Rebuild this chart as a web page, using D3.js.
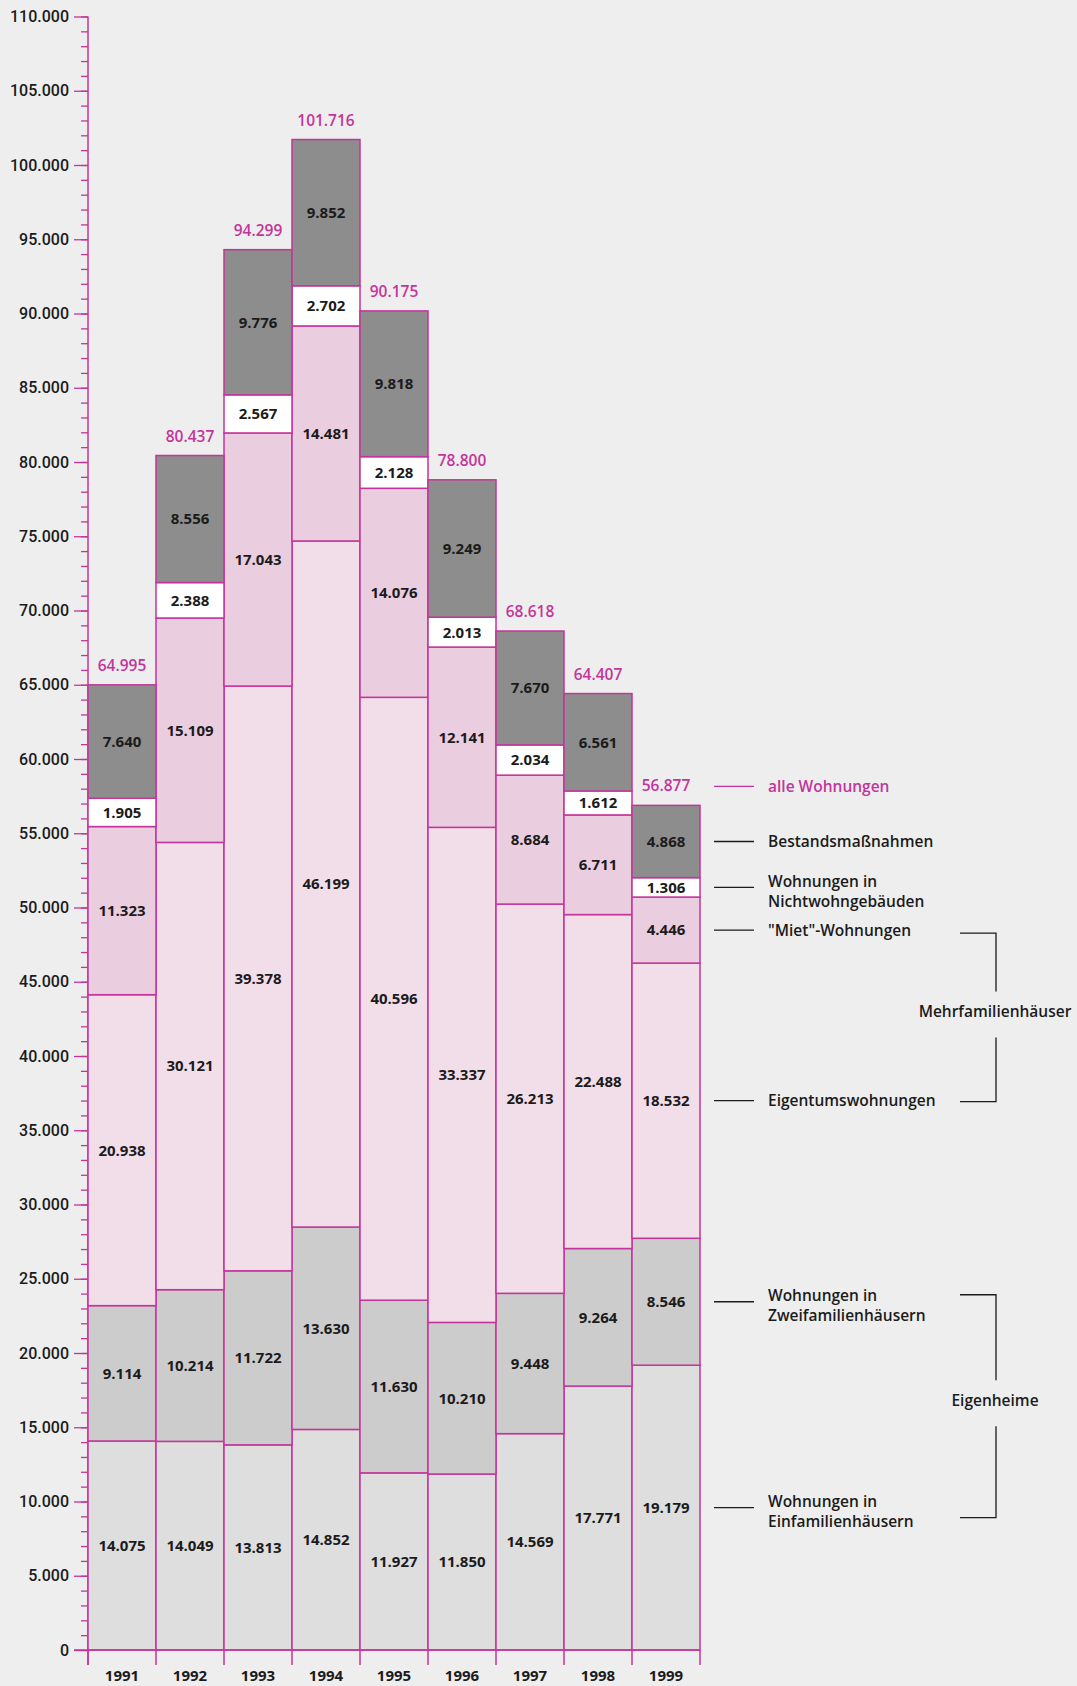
<!DOCTYPE html>
<html>
<head>
<meta charset="utf-8">
<script src="https://cdn.jsdelivr.net/npm/d3@7"></script>
<style>
  html, body { margin: 0; padding: 0; background: #eeeeee; }
  svg { display: block; }
</style>
</head>
<body>
<svg id="chart"></svg>
<script>
const years = ['1991', '1992', '1993', '1994', '1995', '1996', '1997', '1998', '1999']

// bottom to top
const einfamilien = [14075, 14049, 13813, 14852, 11927, 11850, 14569, 17771, 19179]
const zweifamilien = [9114, 10214, 11722, 13630, 11630, 10210, 9448, 9264, 8546]
const eigentum = [20938, 30121, 39378, 46199, 40596, 33337, 26213, 22488, 18532]
const miet = [11323, 15109, 17043, 14481, 14076, 12141, 8684, 6711, 4446]
const nichtwohn = [1905, 2388, 2567, 2702, 2128, 2013, 2034, 1612, 1306]
const bestand = [7640, 8556, 9776, 9852, 9818, 9249, 7670, 6561, 4868]
const totals = [64995, 80437, 94299, 101716, 90175, 78800, 68618, 64407, 56877]

const seriesKeys = ['einfamilien', 'zweifamilien', 'eigentum', 'miet', 'nichtwohn', 'bestand']
const seriesLabels = [
  ['Wohnungen in', 'Einfamilienhäusern'],
  ['Wohnungen in', 'Zweifamilienhäusern'],
  ['Eigentumswohnungen'],
  ['"Miet"-Wohnungen'],
  ['Wohnungen in', 'Nichtwohngebäuden'],
  ['Bestandsmaßnahmen']
]
const totalLabel = 'alle Wohnungen'
const groupLabels = ['Eigenheime', 'Mehrfamilienhäuser']

const width = 1077
const height = 1686
const magenta = '#c4359b'
const ink = '#1b1b1b'
const fills = {
  einfamilien: '#dedede',
  zweifamilien: '#cccccc',
  eigentum: '#f2dee9',
  miet: '#ebcde0',
  nichtwohn: '#ffffff',
  bestand: '#8d8d8d'
}

const de = d3.formatLocale({ decimal: ',', thousands: '.', grouping: [3], currency: ['', ' €'] })
const fmt = de.format(',d')

const x = d3.scaleBand().domain(years).range([88, 700]).paddingInner(0).paddingOuter(0)
const y = d3.scaleLinear().domain([0, 110000]).range([1650, 16.5])

const svg = d3.select('#chart')
  .attr('width', width)
  .attr('height', height)

svg.append('rect')
  .attr('width', width)
  .attr('height', height)
  .attr('fill', '#eeeeee')

const table = years.map((yr, i) => ({
  year: yr,
  einfamilien: einfamilien[i],
  zweifamilien: zweifamilien[i],
  eigentum: eigentum[i],
  miet: miet[i],
  nichtwohn: nichtwohn[i],
  bestand: bestand[i],
  total: totals[i]
}))

const stacked = d3.stack().keys(seriesKeys)(table)

/**
 * Draw the y axis with major and minor ticks.
 */
function drawAxis () {
  const minor = svg.append('g')
    .attr('transform', `translate(${x.range()[0]},0)`)
    .call(d3.axisLeft(y).tickValues(d3.range(0, 110001, 1000)).tickSize(7).tickFormat(''))
  minor.select('.domain').remove()
  minor.selectAll('line').attr('stroke', magenta).attr('stroke-width', 1.3)

  const major = svg.append('g')
    .attr('transform', `translate(${x.range()[0]},0)`)
    .call(d3.axisLeft(y).tickValues(d3.range(0, 110001, 5000)).tickSize(14).tickPadding(5).tickFormat(fmt))
  major.select('.domain').remove()
  major.selectAll('line').attr('stroke', magenta).attr('stroke-width', 1.3)
  major.selectAll('text')
    .attr('fill', ink)
    .attr('font-family', 'Roboto')
    .attr('font-weight', 500)
    .attr('font-size', '16px')

  svg.append('line')
    .attr('x1', x.range()[0]).attr('x2', x.range()[0])
    .attr('y1', y(110000)).attr('y2', y(0) + 15)
    .attr('stroke', magenta)
    .attr('stroke-width', 1.5)
}

/**
 * Draw the stacked bars with their value labels.
 */
function drawBars () {
  const layer = svg.append('g')
    .selectAll('g')
    .data(stacked)
    .join('g')
    .attr('fill', d => fills[d.key])

  layer.selectAll('rect')
    .data(d => d)
    .join('rect')
    .attr('x', d => x(d.data.year))
    .attr('width', x.bandwidth())
    .attr('y', d => y(d[1]))
    .attr('height', d => y(d[0]) - y(d[1]))
    .attr('stroke', magenta)
    .attr('stroke-width', 1.5)

  const labels = svg.append('g')
    .attr('font-family', 'Open Sans')
    .attr('font-weight', 700)
    .attr('font-size', '15px')
    .attr('fill', ink)
    .attr('text-anchor', 'middle')

  stacked.forEach(s => {
    labels.selectAll(null)
      .data(s)
      .join('text')
      .attr('x', d => x(d.data.year) + x.bandwidth() / 2)
      .attr('y', d => y((d[0] + d[1]) / 2))
      .attr('dy', '0.36em')
      .text(d => fmt(d[1] - d[0]))
  })

  svg.append('g')
    .attr('font-family', 'Open Sans')
    .attr('font-weight', 600)
    .attr('font-size', '15.5px')
    .attr('fill', magenta)
    .attr('text-anchor', 'middle')
    .selectAll('text')
    .data(table)
    .join('text')
    .attr('x', d => x(d.year) + x.bandwidth() / 2)
    .attr('y', d => y(d.total) - 14)
    .text(d => fmt(d.total))

  // baseline and bar edges running below zero
  const edges = years.map(yr => x(yr)).concat([x.range()[1]])
  svg.append('g')
    .selectAll('line')
    .data(edges)
    .join('line')
    .attr('x1', d => d).attr('x2', d => d)
    .attr('y1', y(0)).attr('y2', y(0) + 15)
    .attr('stroke', magenta)
    .attr('stroke-width', 1.5)

  svg.append('line')
    .attr('x1', x.range()[0] - 14).attr('x2', x.range()[1])
    .attr('y1', y(0)).attr('y2', y(0))
    .attr('stroke', magenta)
    .attr('stroke-width', 1.5)

  svg.append('g')
    .attr('font-family', 'Open Sans')
    .attr('font-weight', 700)
    .attr('font-size', '15px')
    .attr('fill', ink)
    .attr('text-anchor', 'middle')
    .selectAll('text')
    .data(years)
    .join('text')
    .attr('x', d => x(d) + x.bandwidth() / 2)
    .attr('y', y(0) + 31)
    .text(d => d)
}

/**
 * Draw the legend to the right of the last bar, with group brackets.
 */
function drawLegend () {
  const last = stacked.map(s => s[s.length - 1])
  const lineX0 = 714
  const lineX1 = 754
  const textX = 768
  const ys = last.map(d => y((d[0] + d[1]) / 2))

  const g = svg.append('g')
    .attr('font-family', 'Open Sans')
    .attr('font-weight', 600)
    .attr('font-size', '15.5px')

  seriesLabels.forEach((lines, i) => {
    g.append('line')
      .attr('x1', lineX0).attr('x2', lineX1)
      .attr('y1', ys[i]).attr('y2', ys[i])
      .attr('stroke', ink)
      .attr('stroke-width', 1.3)
    const t = g.append('text')
      .attr('x', textX)
      .attr('y', lines.length > 1 ? ys[i] - 6 : ys[i])
      .attr('fill', ink)
    lines.forEach((l, j) => {
      t.append('tspan')
        .attr('x', textX)
        .attr('dy', j === 0 ? '0.36em' : '20px')
        .text(l)
    })
  })

  const totalY = y(totals[totals.length - 1]) - 19
  g.append('line')
    .attr('x1', lineX0).attr('x2', lineX1)
    .attr('y1', totalY).attr('y2', totalY)
    .attr('stroke', magenta)
    .attr('stroke-width', 1.3)
  g.append('text')
    .attr('x', textX)
    .attr('y', totalY)
    .attr('dy', '0.36em')
    .attr('fill', magenta)
    .text(totalLabel)

  const brackets = [
    { label: groupLabels[0], top: ys[1] - 7, bottom: ys[0] + 10 },
    { label: groupLabels[1], top: ys[3] + 3, bottom: ys[2] + 1 }
  ]
  const bx0 = 960
  const bx1 = 996
  brackets.forEach(b => {
    const mid = (b.top + b.bottom) / 2 - 6
    g.append('path')
      .attr('d', `M${bx0},${b.top}H${bx1}V${mid - 20}M${bx1},${mid + 26}V${b.bottom}H${bx0}`)
      .attr('fill', 'none')
      .attr('stroke', ink)
      .attr('stroke-width', 1.3)
    g.append('text')
      .attr('x', bx1 - 1)
      .attr('y', mid)
      .attr('dy', '0.36em')
      .attr('text-anchor', 'middle')
      .attr('fill', ink)
      .text(b.label)
  })
}

drawAxis()
drawBars()
drawLegend()
</script>
</body>
</html>
